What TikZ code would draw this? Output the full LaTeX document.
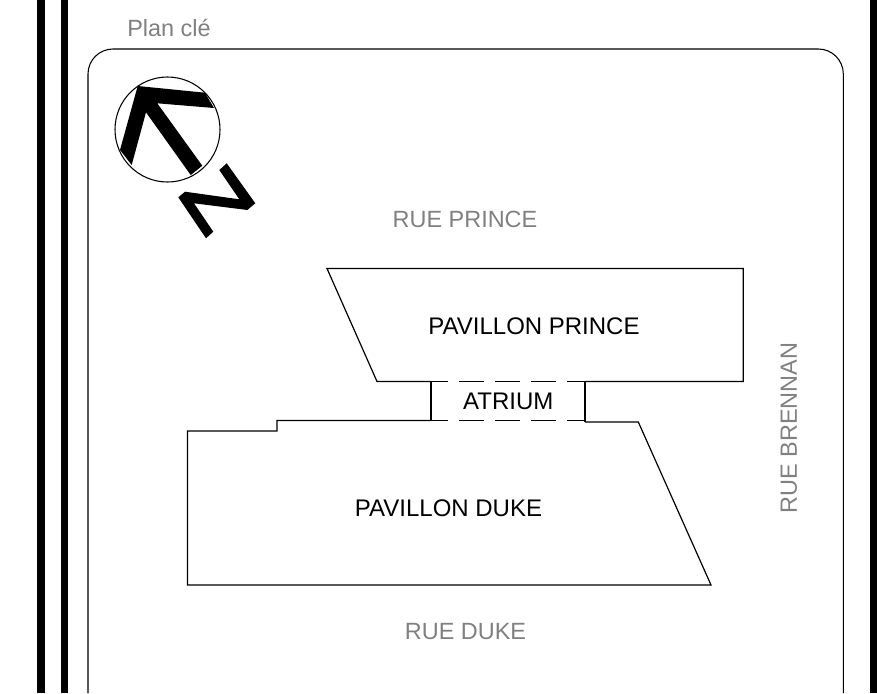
\documentclass[tikz,border=0pt]{standalone}
\usepackage{fontspec}
\setmainfont{Liberation Sans}
\definecolor{streetgray}{HTML}{808080}
\tikzset{
  wall/.style={line width=0.9pt,black},
  framewall/.style={line width=0.8pt,black},
  atriumdash/.style={wall,dash pattern=on 18.75pt off 8.25pt,dash phase=6pt},
  buildinglabel/.style={text=black,font=\fontsize{18pt}{20pt}\selectfont,inner sep=0pt},
  streetlabel/.style={text=streetgray,font=\fontsize{17.6pt}{20pt}\selectfont,inner sep=0pt}
}
\begin{document}
\begin{tikzpicture}[x=0.75pt,y=-0.75pt]
\useasboundingbox (0,0) rectangle (877,693);

% Black bars on the sides
\fill (37,0) rectangle (45,693);
\fill (61,0) rectangle (68,693);
\fill (870,0) rectangle (877,693);

% Outer frame, open at the bottom
\draw[framewall,rounded corners=18.75pt] (88,693) -- (88,49) -- (843.3,49) -- (843.3,693);
\node[streetlabel,anchor=west] (plan) at (127,28) {Plan clé};

% North arrow
\draw[framewall] (167.5,129.5) circle (52.5);
\fill (137.7,86) -- (205,92.7) -- (214,108) -- (157.3,103.3) -- (202.3,165.7) -- (190.7,175) -- (146,112.3) -- (131.7,165) -- (120,150) -- cycle;
\fill (226.7,163.3) -- (255.3,203.3) -- (247.3,210) -- (194,203.3) -- (213.3,231.7) -- (206,238.3) -- (178.3,197.3) -- (185,191.7) -- (239.3,199.3) -- (219.3,170) -- cycle;

% Pavillon Prince
\draw[wall] (431,381.5) -- (377,381.5) -- (327,268.5) -- (743.3,268.5) -- (743.3,381.5) -- (585,381.5);
\node[buildinglabel] (prince) at (534,326) {PAVILLON PRINCE};

% Atrium
\draw[wall] (431,381.5) -- (431,420.5);
\draw[wall] (585,381.5) -- (585,422);
\draw[atriumdash] (431,381.5) -- (585,381.5);
\draw[atriumdash] (431,420.5) -- (585,420.5);
\node[buildinglabel] (atrium) at (508.3,401.5) {ATRIUM};

% Pavillon Duke
\draw[wall] (431,420.5) -- (277,420.5) -- (277,431) -- (187.5,431) -- (187.5,585) -- (711,585) -- (638.3,422) -- (585,422);
\node[buildinglabel] (duke) at (448.5,508.5) {PAVILLON DUKE};

% Streets
\node[streetlabel] (rueprince) at (465,219) {RUE PRINCE};
\node[streetlabel] (rueduke) at (465.5,632) {RUE DUKE};
\node[streetlabel,rotate=90] (ruebrennan) at (789,428) {RUE BRENNAN};

\end{tikzpicture}
\end{document}
